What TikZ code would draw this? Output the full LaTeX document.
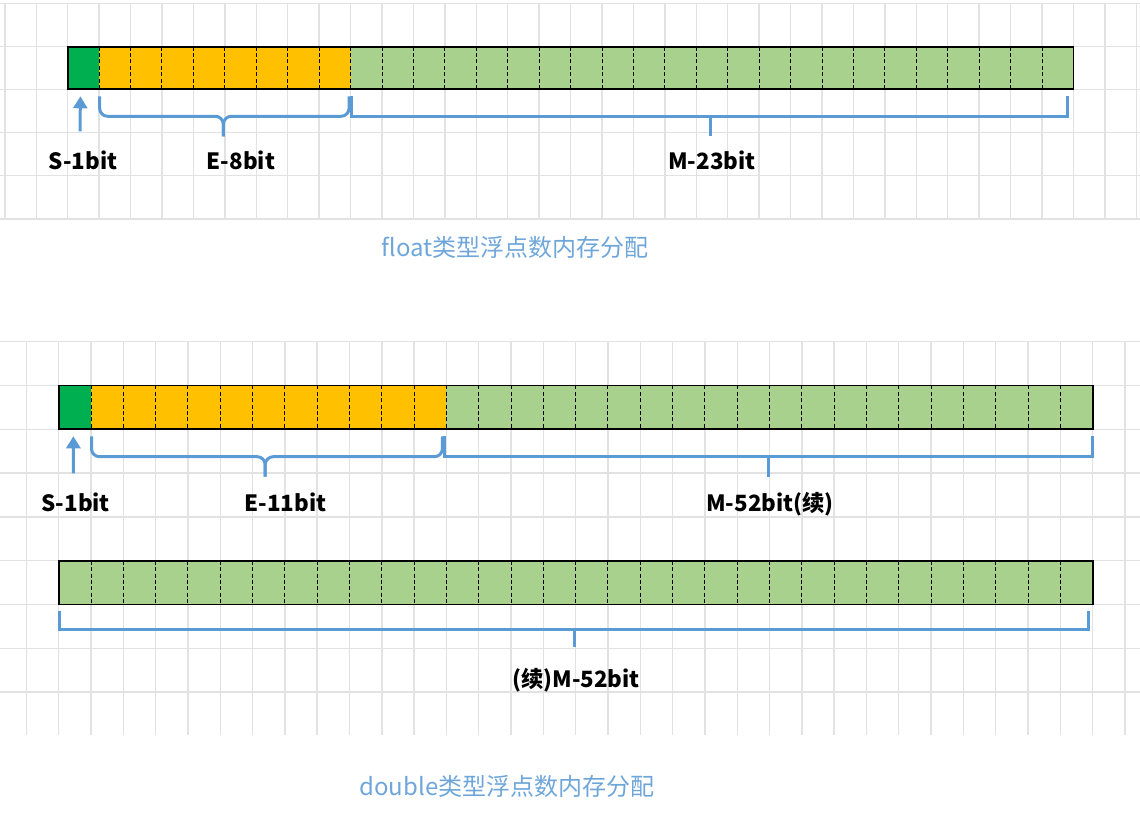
\documentclass[tikz,border=0pt]{standalone}
\usepackage{fontspec}
\setmainfont{Noto Sans CJK SC}
\usetikzlibrary{arrows.meta, positioning, calc}
\definecolor{signgreen}{HTML}{00B050}
\definecolor{exporange}{HTML}{FFC000}
\definecolor{mantgreen}{HTML}{A9D18E}
\definecolor{braceblue}{HTML}{5B9BD5}
\definecolor{titleblue}{HTML}{6FA6DA}
\definecolor{gridgray}{HTML}{E2E2E2}

\begin{document}
\begin{tikzpicture}[x=0.5pt, y=-0.5pt,
    gridline/.style={gridgray, line width=0.7pt},
    fcell/.style={anchor=north west, inner sep=0, outer sep=0, minimum height=21.3pt},
    dcell/.style={anchor=north west, inner sep=0, outer sep=0, minimum height=21.9pt},
    bitsep/.style={black, line width=0.5pt, dash pattern=on 2pt off 1.2pt},
    outline/.style={black, line width=0.9pt},
    brace/.style={braceblue, line width=1.5pt},
    arrow/.style={braceblue, line width=1.5pt, -{Triangle[length=6pt, width=7pt]}},
    lab/.style={anchor=base, inner sep=0, font=\bfseries\fontsize{11.2}{13}\selectfont},
    title/.style={anchor=base, inner sep=0, text=titleblue, font=\fontsize{12}{14}\selectfont}
]
\useasboundingbox (0,0) rectangle (1140,828);

% background grids
\foreach \k in {-2,...,34}
    \draw[gridline] ({67.7+\k*31.43},3.3) -- ({67.7+\k*31.43},219);
\foreach \y in {3.3,46.4,89.5,132.6,175.7,219}
    \draw[gridline] (0,\y) -- (1140,\y);
\foreach \k in {-1,...,33}
    \draw[gridline] ({58.7+\k*32.31},341.7) -- ({58.7+\k*32.31},735);
\foreach \k in {0,...,8}
    \draw[gridline] (0,{341.7+\k*43.8}) -- (1140,{341.7+\k*43.8});

% float
\node[fcell, fill=signgreen, minimum width=15.715pt] (fsign) at (67.7,46.7) {};
\node[fcell, fill=exporange, minimum width=8*15.715pt] (fexp) at (fsign.north east) {};
\node[fcell, fill=mantgreen, minimum width=23*15.715pt] (fmant) at (fexp.north east) {};
\foreach \i in {1,...,31}
    \draw[bitsep] ($(fsign.north west)+(\i*31.43,0)$) -- ++(0,42.6);
\draw[outline] (fsign.north west) rectangle (fmant.south east);

\node[lab] (fs) at (83,169.5) {S-1bit};
\node[lab] (fe) at (241,169.5) {E-8bit};
\node[lab] (fm) at (712,169.5) {M-23bit};
\node[title] (ftitle) at (515,257) {float类型浮点数内存分配};

\draw[arrow] ($(fs.north)+(-3,-19)$) -- ($(fsign.south)+(-3,7)$);
\draw[brace, rounded corners=4] ($(fexp.south west)+(0.5,7)$) |- ($(fexp.south)+(-1.5,27)$) -- ++(0,20);
\draw[brace, rounded corners=4] ($(fexp.south east)+(-1.5,7)$) |- ($(fexp.south)+(-1.5,27)$) -- ++(0,20);
\draw[brace] ($(fmant.south west)+(0.5,7)$) |- ($(fmant.south east)+(-5.5,27)$) -- ++(0,-20);
\draw[brace] ($(fmant.south)+(-1.5,27)$) -- ++(0,20);

% double
\node[dcell, fill=signgreen, minimum width=16.155pt] (dsign) at (58.7,385.5) {};
\node[dcell, fill=exporange, minimum width=11*16.155pt] (dexp) at (dsign.north east) {};
\node[dcell, fill=mantgreen, minimum width=20*16.155pt] (dmant) at (dexp.north east) {};
\foreach \i in {1,...,31}
    \draw[bitsep] ($(dsign.north west)+(\i*32.31,0)$) -- ++(0,43.8);
\draw[outline] (dsign.north west) rectangle (dmant.south east);

\node[dcell, fill=mantgreen, minimum width=32*16.155pt] (dmore) at (58.7,560.7) {};
\foreach \i in {1,...,31}
    \draw[bitsep] ($(dmore.north west)+(\i*32.31,0)$) -- ++(0,43.8);
\draw[outline] (dmore.north west) rectangle (dmore.south east);

\node[lab] (ds) at (75.5,511.5) {S-1bit};
\node[lab] (de) at (285.5,511.5) {E-11bit};
\node[lab] (dm) at (770,511.5) {M-52bit(续)};
\node[lab] (dmm) at (576,687.7) {(续)M-52bit};
\node[title] (dtitle) at (507,795) {double类型浮点数内存分配};

\draw[arrow] ($(ds.north)+(-2,-19)$) -- ($(dsign.south)+(-1.5,7)$);
\draw[brace, rounded corners=4] ($(dexp.south west)+(0.5,7)$) |- ($(dexp.south)+(-3.5,27.4)$) -- ++(0,20);
\draw[brace, rounded corners=4] ($(dexp.south east)+(-4,7)$) |- ($(dexp.south)+(-3.5,27.4)$) -- ++(0,20);
\draw[brace] ($(dmant.south west)+(-1.5,7)$) |- ($(dmant.south east)+(-0.5,27.4)$) -- ++(0,-20.4);
\draw[brace] ($(dmant.south)+(-1,27.4)$) -- ++(0,20);
\draw[brace] ($(dmore.south west)+(0.5,6.2)$) |- ($(dmore.south east)+(-4.4,24.5)$) -- ++(0,-18.3);
\draw[brace] ($(dmore.south)+(-0.7,24.5)$) -- ++(0,17.7);
\end{tikzpicture}
\end{document}
